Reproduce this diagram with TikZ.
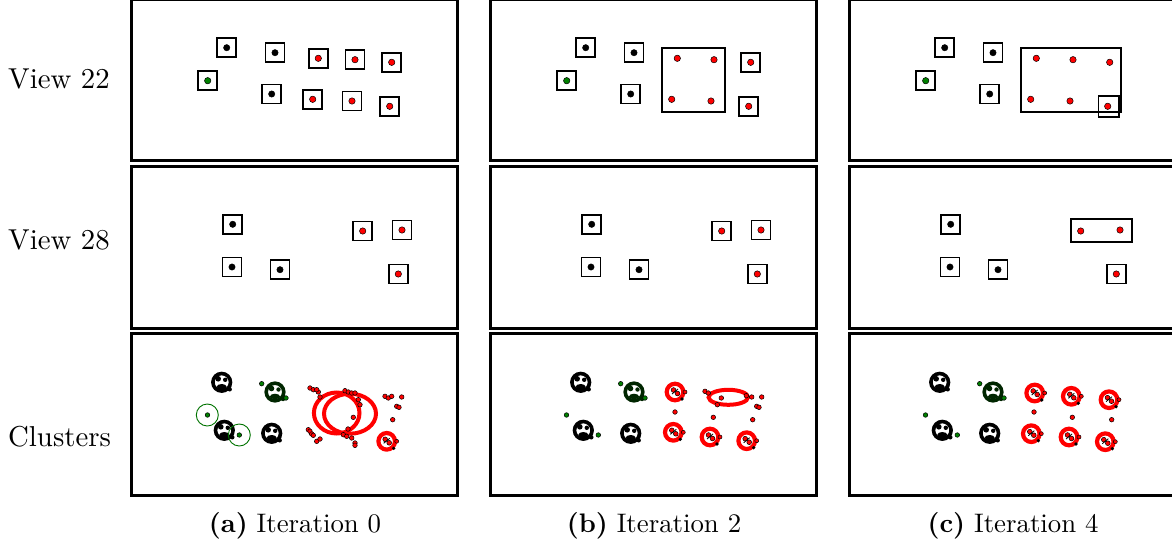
\documentclass[tikz,border=0pt]{standalone}
\usepackage{fontspec}
\setmainfont{lmroman10}[Extension=.otf, UprightFont=*-regular, BoldFont=*-bold, ItalicFont=*-italic]
\begin{document}
\begin{tikzpicture}[x=1pt,y=-1pt,
  panel/.style={draw=black, line width=3pt},
  vbox/.style={draw=black, line width=1.7pt, fill=white},
  bigbox/.style={draw=black, line width=1.7pt},
  bdot/.style={fill=black, draw=black, line width=0.4pt},
  rdot/.style={fill=red, draw=black, line width=0.5pt},
  gdot/.style={fill=green!50!black, draw=black, line width=0.5pt},
  gring/.style={draw=green!45!black, line width=0.9pt},
  rell/.style={draw=red, line width=4pt},
  lbl/.style={font=\fontsize{28.8}{34}\selectfont, anchor=base west, inner sep=0pt},
  captxt/.style={font=\fontsize{26.8}{32}\selectfont, anchor=base, inner sep=0pt}]
\useasboundingbox (0,0) rectangle (1172,546);
\fill[white] (0,0) rectangle (1172,546);

% macros
\newcommand{\mybox}[3]{\draw[vbox] (#1,#2) ++(-9.5,-9.5) rectangle ++(19,19); \filldraw[#3] (#1,#2) circle (3.2);}
\newcommand{\mydot}[3]{\filldraw[#3] (#1,#2) circle (3.2);}
\newcommand{\sdot}[3]{\filldraw[#3] (#1,#2) circle (2.3);}
\newcommand{\bclu}[3]{\begin{scope}[shift={(#2,#3)}]
  \draw[#1, line width=3.6pt] (0,0) circle (8.8);
  \fill[#1] (-3.5,-3.5) circle (2.8); \fill[#1] (3.5,-2.5) circle (2.2); \fill[#1] (0,4.5) ellipse (5 and 2.8);
  \fill[#1] (8,7) circle (2.2);
  \end{scope}}
\newcommand{\rclu}[2]{\begin{scope}[shift={(#1,#2)}]
  \draw[red, line width=4.2pt] (0,0) circle (8.3);
  \filldraw[rdot] (-1.5,-2) circle (2.4); \filldraw[rdot] (2.5,1.5) circle (2.4);
  \draw[black, line width=0.8pt] (-3,2) -- (3,-3);
  \fill (7,7) circle (1.8); \filldraw[rdot] (10,0) circle (2);
  \end{scope}}

% row labels
\node[lbl] (l22) at (8,88) {View 22};
\node[lbl] (l28) at (8,249) {View 28};
\node[lbl] (lcl) at (8,446) {Clusters};

% panels
\foreach \c in {0,359,718}{
  \draw[panel] (131.5+\c,-1) rectangle (457.5+\c,160.5);
  \draw[panel] (131.5+\c,166.5) rectangle (457.5+\c,328);
  \draw[panel] (131.5+\c,333.5) rectangle (457.5+\c,495);
}

% captions
\node[captxt] (ca) at (295,532) {\textbf{(a)} Iteration 0};
\node[captxt] (cb) at (654,532) {\textbf{(b)} Iteration 2};
\node[captxt] (cc) at (1013,532) {\textbf{(c)} Iteration 4};

% ===== Row 1 =====
\foreach \c in {0,359,718}{
\begin{scope}[xshift=\c pt]
  \mybox{226.7}{47.7}{bdot}
  \mybox{275}{52.7}{bdot}
  \mybox{207.7}{80.7}{gdot}
  \mybox{271.7}{94}{bdot}
\end{scope}}
% col 1
\mybox{318.3}{58.3}{rdot}
\mybox{355}{59.7}{rdot}
\mybox{391.7}{62.3}{rdot}
\mybox{312.7}{99.3}{rdot}
\mybox{352}{101}{rdot}
\mybox{389.7}{106.3}{rdot}
% col 2
\begin{scope}[xshift=359pt]
  \draw[bigbox] (302.7,48.3) rectangle (366,111.7);
  \mydot{318.3}{58.3}{rdot}
  \mydot{355}{59.7}{rdot}
  \mydot{312.7}{99.3}{rdot}
  \mydot{352}{101}{rdot}
  \mybox{391.7}{62.3}{rdot}
  \mybox{389.7}{106.3}{rdot}
\end{scope}
% col 3
\begin{scope}[xshift=718pt]
  \draw[bigbox] (303.3,48.3) rectangle (403.3,111.7);
  \mydot{318.3}{58.3}{rdot}
  \mydot{355}{59.7}{rdot}
  \mydot{391.7}{62.3}{rdot}
  \mydot{312.7}{99.3}{rdot}
  \mydot{352}{101}{rdot}
  \draw[bigbox] (380.5,96) rectangle (401,116.7);
  \mydot{389.7}{106.3}{rdot}
\end{scope}

% ===== Row 2 =====
\foreach \c in {0,359,718}{
\begin{scope}[xshift=\c pt]
  \mybox{232.7}{224.3}{bdot}
  \mybox{232}{267}{bdot}
  \mybox{280}{269.7}{bdot}
  \mybox{398.3}{274}{rdot}
\end{scope}}
\foreach \c in {0,359}{
\begin{scope}[xshift=\c pt]
  \mybox{362.7}{231}{rdot}
  \mybox{402}{230}{rdot}
\end{scope}}
\begin{scope}[xshift=718pt]
  \draw[bigbox] (353.3,219.3) rectangle (413.7,241.7);
  \mydot{362.7}{231}{rdot}
  \mydot{402}{230}{rdot}
\end{scope}

% ===== Row 3 =====
\foreach \c in {0,359,718}{
\begin{scope}[xshift=\c pt]
  \bclu{black}{221.7}{382.3}
  \bclu{green!15!black}{275}{392}
  \bclu{black}{224.3}{430.3}
  \bclu{black}{271.7}{433.3}
  \sdot{261.7}{383.7}{gdot}
  \sdot{286}{398}{gdot}
  \sdot{207.5}{415}{gdot}
  \sdot{239.3}{435}{gdot}
\end{scope}}
% col 1
\draw[gring] (207.3,415) circle (11);
\draw[gring] (239.3,435) circle (11);
\draw[rell] (336.7,413) ellipse (22.8 and 20.5);
\draw[rell] (350,413.7) ellipse (26 and 20);
\foreach \p in {(310,388),(313.3,389.7),(318.3,392),(316.7,389.7),(345,390.7),(348.3,392),(351.7,393),(355,393),(358.3,399.7),(360,404.7),(353.3,417.3),(308.3,429.7),(310,431.3),(311.7,434),(313.3,435.3),(316.7,441.3),(320,439),(343.3,434.7),(346.7,436.3),(351.7,438),(355,443),(355,445.3),(385,396.3),(388.3,398),(391.7,396.3),(401.7,397),(396.7,406.3),(399,407.3),(392.7,419.7),(320,397),(348,429)}
  \filldraw[rdot] \p circle (2.3);
\rclu{386.7}{441.3}
% col 2
\begin{scope}[xshift=359pt]
  \rclu{316}{392}
  \draw[rell] (369.3,397.3) ellipse (19.7 and 7.5);
  \foreach \p in {(346,391.3),(349.3,393),(362.3,398),(392.7,397),(402.7,397),(397.7,406.3),(400,407.3),(358.3,404.7),(387.3,395.7),(316,412),(354.3,417.3),(393.7,419.7)}
    \filldraw[rdot] \p circle (2.3);
  \rclu{314.3}{432.3}
  \rclu{351}{437}
  \rclu{387.7}{440.7}
\end{scope}
% col 3
\begin{scope}[xshift=718pt]
  \rclu{316.7}{393}
  \rclu{353.3}{396.3}
  \rclu{391}{399.7}
  \foreach \p in {(316,412),(354.3,417.3),(393.7,419.7)}
    \filldraw[rdot] \p circle (2.3);
  \rclu{313.3}{433.7}
  \rclu{351}{437}
  \rclu{387.3}{441.7}
\end{scope}
\end{tikzpicture}
\end{document}
